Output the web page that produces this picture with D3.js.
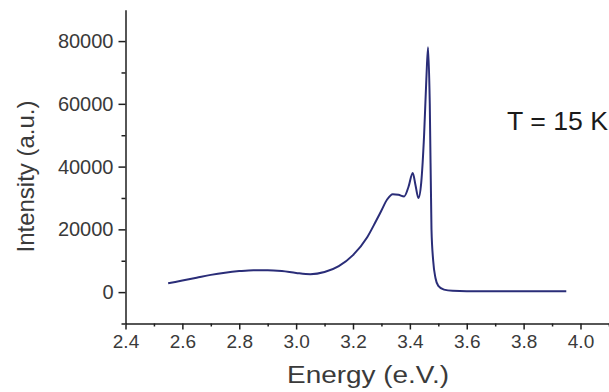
<!DOCTYPE html>
<html>
<head>
<meta charset="utf-8">
<script src="https://cdn.jsdelivr.net/npm/d3@7"></script>
<style>
  html, body { margin: 0; padding: 0; background: #fff; }
  svg { display: block; }
</style>
</head>
<body>
<svg id="chart" width="609" height="392"></svg>
<script>
// Data
const energy = [2.55, 2.60, 2.65, 2.70, 2.75, 2.80, 2.85, 2.90, 2.95, 3.00, 3.05, 3.10, 3.15, 3.20, 3.25, 3.28, 3.30, 3.32, 3.34, 3.36, 3.38, 3.395, 3.41, 3.42, 3.43, 3.44, 3.45, 3.458, 3.464, 3.47, 3.476, 3.482, 3.49, 3.50, 3.52, 3.55, 3.60, 3.70, 3.80, 3.95];
const intensity = [2800, 3700, 4600, 5500, 6200, 6700, 7000, 7000, 6700, 6100, 5700, 6400, 8300, 11800, 17500, 22500, 26000, 29500, 31200, 31000, 30500, 33500, 38000, 34000, 30000, 35000, 50000, 68000, 78000, 60000, 20000, 10000, 4500, 2000, 800, 400, 300, 300, 300, 300];
const xTicks = [2.4, 2.6, 2.8, 3.0, 3.2, 3.4, 3.6, 3.8, 4.0];
const xMinorTicks = [2.5, 2.7, 2.9, 3.1, 3.3, 3.5, 3.7, 3.9, 4.1];
const yTicks = [0, 20000, 40000, 60000, 80000];
const yMinorTicks = [-10000, 10000, 30000, 50000, 70000];
const xTitle = "Energy (e.V.)";
const yTitle = "Intensity (a.u.)";
const annotation = "T = 15 K";

const svg = d3.select("#chart");
const x = d3.scaleLinear().domain([2.4, 4.102]).range([125.5, 609.5]);
const y = d3.scaleLinear().domain([-10000, 90000]).range([323.5, 9.7]);

const font = "'Liberation Sans', Arial, Helvetica, sans-serif";
const textCol = "#3a3a3a";
const axisCol = "#1e1e1e";

// Y axis
svg.append("g").attr("class", "yaxis").attr("transform", "translate(125.5,0)")
  .call(d3.axisLeft(y).tickValues(yTicks).tickFormat(d3.format("d")).tickSize(7).tickPadding(5).tickSizeOuter(0));
svg.append("g").attr("transform", "translate(125.5,0)")
  .call(d3.axisLeft(y).tickValues(yMinorTicks).tickFormat("").tickSize(4).tickSizeOuter(0))
  .select(".domain").remove();

// X axis
svg.append("g").attr("class", "xaxis").attr("transform", "translate(0,323.5)")
  .call(d3.axisBottom(x).tickValues(xTicks).tickFormat(d3.format(".1f")).tickSize(6).tickPadding(5).tickSizeOuter(0));
svg.append("g").attr("transform", "translate(0,323.5)")
  .call(d3.axisBottom(x).tickValues(xMinorTicks).tickFormat("").tickSize(3).tickSizeOuter(0))
  .select(".domain").remove();

svg.selectAll(".domain, .tick line").attr("stroke", axisCol).attr("stroke-width", 1.5);
svg.selectAll(".xaxis .tick text").attr("fill", textCol).style("font-family", font).style("font-size", "19px");
svg.selectAll(".yaxis .tick text").attr("fill", textCol).style("font-family", font).style("font-size", "20px");

// Axis titles
svg.append("text")
  .attr("x", 368).attr("y", 383)
  .attr("text-anchor", "middle")
  .attr("textLength", 162).attr("lengthAdjust", "spacingAndGlyphs")
  .style("font-family", font).style("font-size", "23px").attr("fill", textCol)
  .text(xTitle);

svg.append("text")
  .attr("transform", "translate(34,176.5) rotate(-90)")
  .attr("text-anchor", "middle")
  .style("font-family", font).style("font-size", "24px").attr("fill", textCol)
  .text(yTitle);

// Annotation
svg.append("text")
  .attr("x", 507).attr("y", 130)
  .attr("textLength", 101).attr("lengthAdjust", "spacingAndGlyphs")
  .style("font-family", font).style("font-size", "25px").attr("fill", "#1a1a1a")
  .text(annotation);

// Curve
const pts = energy.map((e, i) => [e, intensity[i]]);
const line = d3.line().x(d => x(d[0])).y(d => y(d[1])).curve(d3.curveMonotoneX);
svg.append("path")
  .datum(pts)
  .attr("d", line)
  .attr("fill", "none")
  .attr("stroke", "#2a2d78")
  .attr("stroke-width", 2)
  .attr("stroke-linejoin", "round");
</script>
</body>
</html>
